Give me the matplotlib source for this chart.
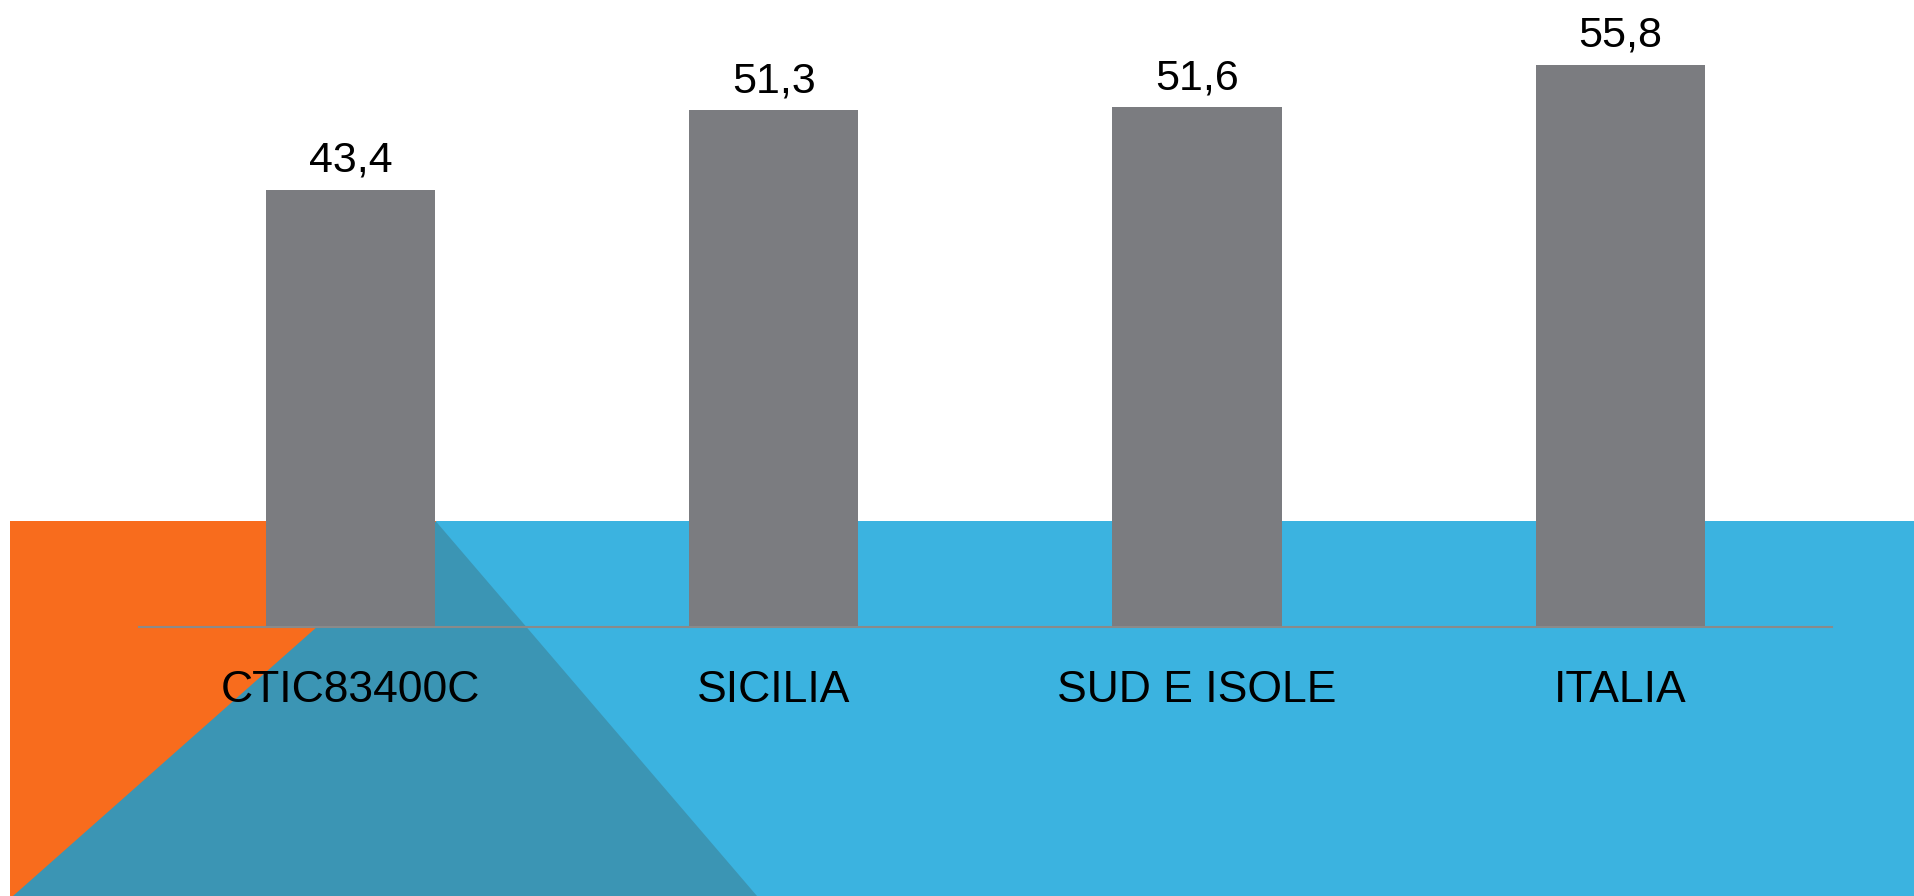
import matplotlib
matplotlib.use("Agg")
import matplotlib.pyplot as plt
from matplotlib.patches import Polygon, Rectangle

categories = ['CTIC83400C', 'SICILIA', 'SUD E ISOLE', 'ITALIA']
values = [43.4, 51.3, 51.6, 55.8]
value_labels = [f"{v:.1f}".replace('.', ',') for v in values]

BAR_COLOR = '#7B7C80'
ORANGE = '#F86C1D'
BLUE = '#3BB3E0'
TEAL = '#3B95B4'
LINE = '#8A8A8A'

plt.rcParams['font.family'] = ['Liberation Sans', 'DejaVu Sans']

W, H = 1914, 896
fig = plt.figure(figsize=(W / 100, H / 100), dpi=100)

# decorative background (figure pixel space)
bg = fig.add_axes([0, 0, 1, 1], zorder=0)
bg.set_xlim(0, W)
bg.set_ylim(H, 0)
bg.axis('off')
bg.add_patch(Rectangle((10, 521.5), 430, H - 521.5, facecolor=ORANGE, edgecolor='none'))
bg.add_patch(Rectangle((436, 521.5), W - 436, H - 521.5, facecolor=BLUE, edgecolor='none'))
bg.add_patch(Polygon([(13, H), (436, 521.5), (757, H)], closed=True,
                     facecolor=TEAL, edgecolor='none'))

ax = fig.add_axes([138.8 / W, (H - 626.5) / H, (1832 - 138.8) / W, 604 / H], zorder=1)
ax.patch.set_alpha(0)
x = list(range(len(categories)))
ax.bar(x, values, width=0.4, color=BAR_COLOR, zorder=2)
ax.set_xlim(-0.5, len(categories) - 0.5)
ax.set_ylim(0, 60)
for s in ['top', 'right', 'left']:
    ax.spines[s].set_visible(False)
ax.spines['bottom'].set_color(LINE)
ax.spines['bottom'].set_linewidth(1.5)
ax.spines['bottom'].set_zorder(3)
ax.set_yticks([])
ax.set_xticks([])

for xi, v, lab in zip(x, values, value_labels):
    ax.annotate(lab, xy=(xi, v), xytext=(0, 13), textcoords='offset points',
                ha='center', va='baseline', fontsize=31, color='black')

for xi, cat in zip(x, categories):
    ax.annotate(cat, xy=(xi, 0), xycoords=('data', 'axes fraction'),
                xytext=(0, -54.4), textcoords='offset points',
                ha='center', va='baseline', fontsize=32, color='black',
                annotation_clip=False)

fig.savefig('out.png', dpi=100)
